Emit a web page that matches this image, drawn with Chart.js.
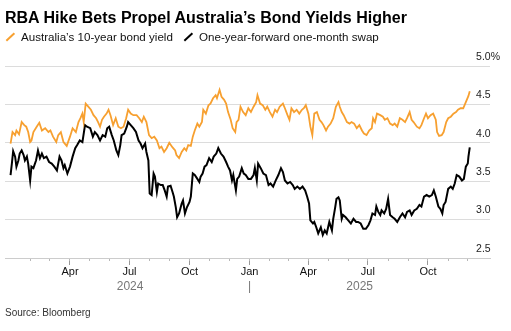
<!DOCTYPE html>
<html>
  <head>
    <meta charset="utf-8" />
    <title>RBA Hike Bets Propel Australia's Bond Yields Higher</title>
    <script src="https://cdn.jsdelivr.net/npm/chart.js"></script>
    <style>
      body {
        margin: 0;
        width: 511px;
        height: 331px;
        overflow: hidden;
        background: #fff;
        position: relative;
        font-family: "Liberation Sans", Arial, sans-serif;
      }

      .chart-wrapper {
        position: absolute;
        left: 0;
        top: 0;
        width: 511px;
        height: 331px;
      }

      .title {
        position: absolute;
        left: 5px;
        top: 10px;
        font-size: 16px;
        line-height: 16px;
        font-weight: bold;
        color: #000;
        white-space: nowrap;
      }

      .legend-text {
        position: absolute;
        top: 30px;
        font-size: 11.6px;
        line-height: 14px;
        color: #111;
        white-space: nowrap;
      }

      .swatch {
        position: absolute;
        top: 36.3px;
        width: 11px;
        height: 2.4px;
        transform: rotate(-43deg);
      }

      .source {
        position: absolute;
        left: 5px;
        top: 307px;
        font-size: 10px;
        line-height: 12px;
        color: #333;
      }
    </style>
  </head>
  <body>
    <div class="chart-wrapper">
      <canvas id="yieldChart"></canvas>
    </div>
    <div class="title">RBA Hike Bets Propel Australia’s Bond Yields Higher</div>
    <span class="swatch" style="left: 5px; background: #f7a030"></span>
    <span class="legend-text" style="left: 21px">Australia’s 10-year bond yield</span>
    <span class="swatch" style="left: 183px; background: #000"></span>
    <span class="legend-text" style="left: 199px">One-year-forward one-month swap</span>
    <div class="source">Source: Bloomberg</div>

    <script>
      // days counted from 1 Jan 2024
      var bondDays = [
        0, 3, 7, 9, 13, 17, 21, 24, 27, 30, 32, 35, 40, 44, 48, 53, 58, 61, 65, 70,
        73, 77, 81, 86, 91, 95, 100, 104, 107, 110, 112, 115, 119, 123, 127, 131, 134, 137, 140, 143,
        147, 150, 153, 157, 161, 165, 169, 173, 177, 180, 184, 188, 193, 197, 201, 204, 208, 212, 216, 220,
        224, 228, 231, 235, 239, 243, 248, 252, 254, 258, 262, 266, 269, 272, 276, 279, 282, 286, 289, 293,
        295, 299, 303, 306, 310, 314, 316, 320, 323, 327, 330, 333, 337, 340, 344, 346, 349, 352, 356, 360,
        364, 368, 372, 376, 378, 382, 386, 390, 393, 397, 401, 405, 408, 412, 417, 420, 424, 427, 430, 434,
        438, 442, 446, 449, 452, 456, 459, 462, 465, 469, 473, 476, 479, 483, 486, 490, 494, 498, 502, 504,
        507, 510, 515, 519, 522, 526, 530, 534, 538, 541, 545, 549, 553, 555, 558, 561, 566, 570, 573, 577,
        581, 585, 588, 592, 596, 600, 604, 607, 611, 614, 617, 622, 626, 629, 633, 636, 639, 643, 647, 651,
        653, 656, 660, 663, 667, 670, 674, 678, 682, 685, 689, 693, 697, 701, 703
      ];
      var bondYield = [
        3.99, 4.14, 4.10, 4.16, 4.11, 4.27, 4.23, 4.21, 4.14, 4.01, 4.03, 4.14, 4.21, 4.26, 4.16, 4.19, 4.14, 4.16, 4.08, 4.01,
        4.10, 4.14, 4.01, 3.96, 4.08, 4.19, 4.14, 4.27, 4.32, 4.38, 4.27, 4.51, 4.47, 4.43, 4.36, 4.32, 4.27, 4.21, 4.30, 4.34,
        4.38, 4.43, 4.36, 4.23, 4.32, 4.21, 4.19, 4.21, 4.32, 4.43, 4.38, 4.36, 4.36, 4.32, 4.27, 4.34, 4.27, 4.10, 4.06, 4.08,
        4.03, 3.93, 3.95, 3.88, 3.93, 4.00, 3.94, 3.90, 3.84, 3.80, 3.88, 3.93, 3.90, 3.97, 3.96, 4.08, 4.16, 4.25, 4.21, 4.27,
        4.43, 4.38, 4.49, 4.51, 4.58, 4.62, 4.58, 4.69, 4.60, 4.56, 4.51, 4.40, 4.30, 4.19, 4.14, 4.27, 4.30, 4.47, 4.40, 4.36,
        4.45, 4.40, 4.47, 4.53, 4.62, 4.51, 4.49, 4.43, 4.47, 4.40, 4.34, 4.43, 4.40, 4.47, 4.51, 4.45, 4.36, 4.30, 4.45, 4.40,
        4.43, 4.38, 4.43, 4.45, 4.49, 4.38, 4.21, 4.10, 4.38, 4.40, 4.30, 4.27, 4.23, 4.16, 4.21, 4.25, 4.32, 4.47, 4.53, 4.47,
        4.40, 4.36, 4.27, 4.25, 4.27, 4.25, 4.19, 4.23, 4.16, 4.12, 4.10, 4.16, 4.19, 4.32, 4.27, 4.38, 4.36, 4.34, 4.30, 4.32,
        4.25, 4.23, 4.25, 4.21, 4.32, 4.30, 4.27, 4.32, 4.40, 4.30, 4.27, 4.21, 4.19, 4.23, 4.32, 4.38, 4.32, 4.36, 4.38, 4.30,
        4.14, 4.09, 4.10, 4.14, 4.27, 4.32, 4.34, 4.38, 4.40, 4.43, 4.45, 4.45, 4.53, 4.61, 4.67
      ];
      var swapDays = [
        0, 2, 4, 7, 9, 12, 14, 17, 20, 22, 25, 27, 30, 32, 35, 39, 42, 45, 48, 51,
        55, 59, 63, 67, 71, 75, 78, 81, 83, 87, 91, 95, 99, 102, 106, 110, 114, 117, 122, 126,
        129, 133, 137, 141, 145, 148, 151, 155, 158, 162, 165, 168, 170, 174, 178, 180, 184, 188, 192, 196,
        199, 202, 206, 208, 211, 213, 216, 219, 221, 224, 226, 230, 233, 236, 239, 241, 245, 248, 250, 253,
        255, 258, 262, 264, 267, 270, 274, 276, 279, 282, 286, 289, 291, 294, 297, 300, 304, 308, 311, 315,
        318, 322, 326, 330, 333, 336, 339, 341, 345, 347, 350, 354, 357, 360, 364, 368, 372, 374, 377, 379,
        383, 387, 391, 395, 398, 402, 406, 410, 414, 417, 420, 424, 428, 432, 435, 439, 443, 447, 451, 454,
        457, 459, 463, 465, 468, 471, 475, 478, 481, 484, 488, 492, 494, 497, 499, 502, 504, 507, 509, 513,
        517, 521, 525, 529, 532, 536, 540, 544, 548, 551, 554, 558, 560, 563, 566, 568, 572, 575, 578, 581,
        585, 588, 592, 596, 600, 604, 607, 611, 614, 618, 622, 626, 629, 633, 637, 641, 645, 648, 651, 655,
        658, 661, 663, 666, 670, 674, 677, 680, 683, 687, 691, 694, 697, 700, 701, 703
      ];
      var swapRate = [
        3.58, 3.73, 3.89, 3.82, 3.69, 3.77, 3.86, 3.90, 3.84, 3.77, 3.82, 3.73, 3.51, 3.69, 3.67, 3.77, 3.90, 3.80, 3.86, 3.80,
        3.82, 3.75, 3.73, 3.69, 3.64, 3.82, 3.77, 3.67, 3.71, 3.60, 3.69, 3.82, 3.93, 3.97, 4.03, 4.01, 4.23, 4.21, 4.19, 4.08,
        4.14, 4.10, 4.03, 4.10, 4.08, 4.19, 4.21, 4.10, 4.03, 3.90, 3.84, 3.97, 4.10, 4.12, 4.21, 4.27, 4.23, 4.19, 4.14, 4.03,
        3.99, 3.93, 3.99, 3.88, 3.77, 3.34, 3.32, 3.60, 3.56, 3.36, 3.47, 3.45, 3.45, 3.38, 3.30, 3.43, 3.44, 3.36, 3.30, 3.16,
        3.03, 3.08, 3.21, 3.25, 3.08, 3.16, 3.23, 3.30, 3.60, 3.58, 3.53, 3.49, 3.56, 3.60, 3.69, 3.71, 3.80, 3.75, 3.82, 3.86,
        3.93, 3.86, 3.82, 3.75, 3.69, 3.64, 3.51, 3.58, 3.38, 3.53, 3.56, 3.67, 3.60, 3.58, 3.53, 3.53, 3.58, 3.67, 3.51, 3.73,
        3.67, 3.60, 3.58, 3.45, 3.47, 3.43, 3.51, 3.58, 3.67, 3.62, 3.51, 3.47, 3.49, 3.45, 3.40, 3.43, 3.40, 3.43, 3.38, 3.30,
        3.21, 2.99, 2.95, 2.97, 2.90, 2.82, 2.90, 2.80, 2.86, 2.82, 2.97, 2.86, 3.01, 3.16, 3.27, 3.29, 3.25, 3.01, 3.06, 3.03,
        2.99, 2.95, 3.01, 2.97, 2.97, 2.95, 2.88, 2.88, 2.93, 2.99, 3.08, 3.06, 3.17, 3.10, 3.06, 3.12, 3.08, 3.14, 3.27, 3.06,
        3.03, 3.01, 2.97, 3.03, 3.08, 3.03, 3.10, 3.12, 3.06, 3.12, 3.14, 3.19, 3.17, 3.30, 3.32, 3.30, 3.32, 3.38, 3.30, 3.17,
        3.14, 3.08, 3.19, 3.23, 3.40, 3.43, 3.40, 3.47, 3.58, 3.56, 3.51, 3.53, 3.69, 3.73, 3.82, 3.94
      ];
      var quarterLabels = ["Apr", "Jul", "Oct", "Jan", "Apr", "Jul", "Oct"];
      var yearLabels = ["2024", "|", "2025"];
      var yTicks = [2.5, 3.0, 3.5, 4.0, 4.5, 5.0];

      const DAY = 86400000;
      const base = Date.UTC(2024, 0, 1);
      function dayOf(y, m, d) {
        return (Date.UTC(y, m, d || 1) - base) / DAY;
      }

      // monthly minor ticks Feb 2024 .. Dec 2025
      const monthDays = [];
      for (let i = 1; i < 24; i++) monthDays.push(dayOf(2024, i));
      const quarterDays = [3, 6, 9, 12, 15, 18, 21].map((m) => dayOf(2024, m));
      const lastDay = swapDays[swapDays.length - 1];
      const jan25 = dayOf(2025, 0);
      const yearDays = [(bondDays[0] + jan25) / 2, jan25, (jan25 + lastDay) / 2];

      const xMin = -8.5;
      const xMax = 734;

      function toPoints(xs, ys) {
        return xs.map((x, i) => ({ x: x, y: ys[i] }));
      }

      function fixTicks(values) {
        return function (scale) {
          scale.ticks = values.map((v) => ({ value: v }));
        };
      }

      const ctx = document.getElementById("yieldChart");

      new Chart(ctx, {
        type: "line",
        data: {
          datasets: [
            {
              label: "Australia's 10-year bond yield",
              data: toPoints(bondDays, bondYield),
              borderColor: "#f7a030",
              borderWidth: 1.8,
              pointRadius: 0,
              tension: 0,
              xAxisID: "x",
            },
            {
              label: "One-year-forward one-month swap",
              data: toPoints(swapDays, swapRate),
              borderColor: "#000",
              borderWidth: 2,
              pointRadius: 0,
              tension: 0,
              xAxisID: "x",
            },
          ],
        },
        options: {
          responsive: true,
          maintainAspectRatio: false,
          animation: false,
          layout: {
            padding: { left: 5, right: 21, top: 66, bottom: 36 },
          },
          plugins: {
            legend: { display: false },
            tooltip: { enabled: false },
          },
          scales: {
            x: {
              type: "linear",
              position: "bottom",
              min: xMin,
              max: xMax,
              afterBuildTicks: fixTicks(monthDays),
              afterFit: function (s) {
                s.height = 3;
              },
              ticks: { display: false },
              grid: { drawOnChartArea: false, tickLength: 3, color: "#b8b8b8", lineWidth: 1 },
              border: { display: true, color: "#cccccc", width: 1 },
            },
            xq: {
              type: "linear",
              position: "bottom",
              min: xMin,
              max: xMax,
              afterBuildTicks: fixTicks(quarterDays),
              afterFit: function (s) {
                s.height = 18;
              },
              ticks: {
                autoSkip: false,
                maxRotation: 0,
                padding: 0,
                color: "#111",
                font: { family: "Liberation Sans", size: 11 },
                callback: function (v, i) {
                  return quarterLabels[i];
                },
              },
              grid: { drawOnChartArea: false, tickLength: 4, color: "#999999", lineWidth: 1 },
              border: { display: false },
            },
            xy: {
              type: "linear",
              position: "bottom",
              min: xMin,
              max: xMax,
              afterBuildTicks: fixTicks(yearDays),
              afterFit: function (s) {
                s.height = 16;
              },
              ticks: {
                autoSkip: false,
                maxRotation: 0,
                padding: 0,
                color: "#777",
                font: { family: "Liberation Sans", size: 12 },
                callback: function (v, i) {
                  return yearLabels[i];
                },
              },
              grid: { display: false, drawTicks: false, tickLength: 0 },
              border: { display: false },
            },
            y: {
              position: "right",
              min: 2.5,
              max: 5,
              afterBuildTicks: fixTicks(yTicks),
              afterFit: function (s) {
                s.width = 0;
              },
              ticks: {
                mirror: true,
                crossAlign: "far",
                padding: 10,
                labelOffset: -9,
                color: "#222",
                font: { family: "Liberation Sans", size: 10.5 },
                callback: function (v) {
                  return v === 5 ? "5.0%" : v.toFixed(1);
                },
              },
              grid: { color: "#dcdcdc", lineWidth: 1, drawTicks: false },
              border: { display: false },
            },
          },
        },
      });
    </script>
  </body>
</html>
